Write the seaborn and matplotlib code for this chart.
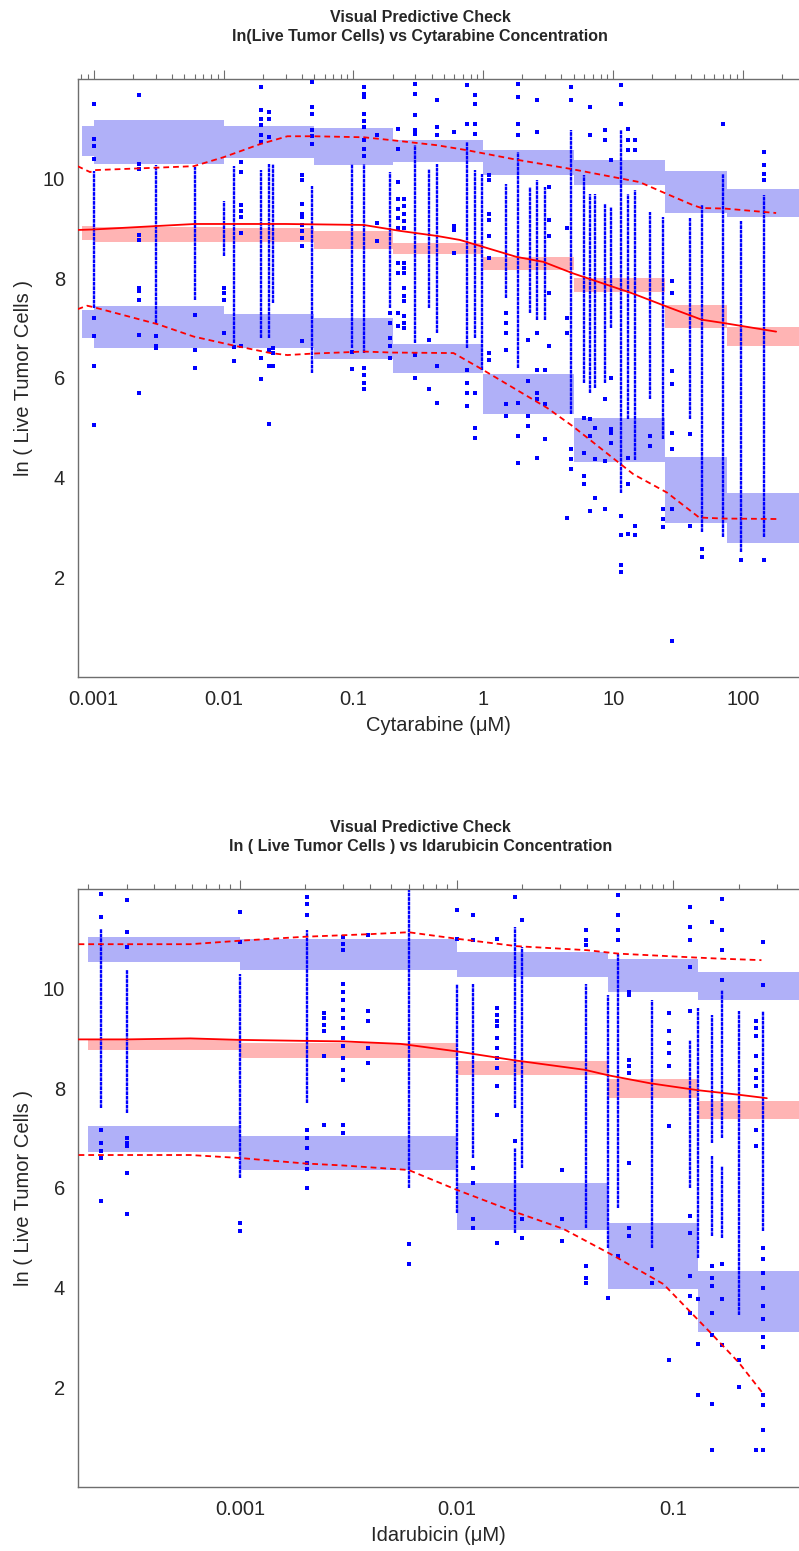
import numpy as np
import pandas as pd
import matplotlib
matplotlib.use("Agg")
import matplotlib.pyplot as plt
import seaborn as sns
from matplotlib.ticker import LogLocator, FuncFormatter, NullFormatter, FixedLocator

# ---------------- Cytarabine panel ----------------
cyt_edges = [0.00081, 0.001, 0.01, 0.05, 0.2, 1, 5, 25, 75, 280]
cyt_up_lo = [10.45, 10.30, 10.42, 10.28, 10.33, 10.08, 9.87, 9.32, 9.22]
cyt_up_hi = [11.05, 11.17, 11.05, 11.01, 10.77, 10.57, 10.37, 10.15, 9.79]
cyt_md_lo = [8.77, 8.72, 8.72, 8.58, 8.48, 8.17, 7.73, 7.00, 6.65]
cyt_md_hi = [9.05, 9.02, 9.00, 8.95, 8.71, 8.43, 8.00, 7.47, 7.03]
cyt_lo_lo = [6.80, 6.60, 6.60, 6.38, 6.10, 5.27, 4.31, 3.10, 2.69]
cyt_lo_hi = [7.37, 7.45, 7.28, 7.20, 6.68, 6.07, 5.20, 4.42, 3.70]

cyt_med_c = [0.00075, 0.001, 0.006, 0.03, 0.12, 0.23, 0.44, 0.66, 1.0, 1.8, 2.9,
             4.9, 14, 26, 48, 72, 180]
cyt_med_y = [8.97, 8.98, 9.09, 9.09, 9.07, 8.95, 8.85, 8.77, 8.63, 8.43, 8.33,
             8.10, 7.70, 7.43, 7.17, 7.10, 6.93]
cyt_p95_c = [0.00075, 0.00094, 0.001, 0.0031, 0.0059, 0.01, 0.019, 0.031, 0.049,
             0.12, 0.2, 0.44, 0.75, 1.8, 4.6, 11.6, 16, 24, 41, 48, 72, 180]
cyt_p95_y = [10.25, 10.13, 10.17, 10.22, 10.25, 10.43, 10.69, 10.85, 10.85,
             10.83, 10.77, 10.67, 10.57, 10.38, 10.20, 10.00, 9.93, 9.73, 9.47,
             9.41, 9.40, 9.31]
cyt_p05_c = [0.00075, 0.00089, 0.001, 0.0031, 0.0059, 0.012, 0.023, 0.031, 0.049,
             0.12, 0.2, 0.59, 0.94, 3.1, 4.9, 14.3, 26, 46, 70, 186]
cyt_p05_y = [7.38, 7.45, 7.42, 7.08, 6.83, 6.65, 6.50, 6.46, 6.49, 6.53, 6.51,
             6.50, 6.20, 5.40, 5.03, 4.07, 3.70, 3.20, 3.18, 3.17]

# dense runs of observations: concentration, low, high
cyt_seg_c = [0.001, 0.003, 0.006, 0.01, 0.012, 0.0195, 0.0224, 0.024, 0.048, 0.0976,
             0.12, 0.19, 0.3, 0.38, 0.44, 0.745, 0.87, 0.97, 1.5, 1.85, 2.3, 2.6,
             3.0, 4.7, 6.0, 6.6, 7.2, 8.7, 9.6, 11.4, 13, 14.7, 19.3, 24.3, 38.8,
             48, 70, 97, 144]
cyt_seg_lo = [7.4, 7.1, 7.57, 8.45, 6.7, 6.8, 6.8, 7.5, 6.1, 6.6, 6.5, 7.4, 6.7, 7.4,
              6.9, 6.6, 6.8, 6.17, 7.6, 6.2, 7.3, 7.17, 7.17, 5.27, 5.9, 5.7, 5.8,
              5.9, 7.0, 3.7, 5.17, 4.35, 5.57, 4.77, 5.17, 2.9, 2.8, 2.5, 2.8]
cyt_seg_hi = [10.15, 10.27, 10.24, 9.55, 10.25, 10.17, 10.3, 10.3, 9.85, 10.3, 10.3,
              10.14, 10.67, 10.2, 10.3, 10.74, 10.17, 10.1, 9.9, 10.54, 9.84, 9.97,
              9.84, 10.97, 10.07, 9.7, 9.7, 9.5, 9.44, 10.97, 9.7, 9.77, 9.34, 9.24,
              9.2, 9.47, 10.1, 9.14, 9.67]

# isolated observations per concentration
cyt_dot_c = [0.001, 0.00225, 0.003, 0.006, 0.01, 0.012, 0.0136, 0.0195, 0.0224, 0.024,
             0.04, 0.048, 0.0976, 0.12, 0.153, 0.19, 0.22, 0.245, 0.3, 0.38, 0.44,
             0.6, 0.745, 0.87, 1.1, 1.5, 1.85, 2.2, 2.6, 3.0, 3.2, 4.4, 4.7, 6.0,
             6.6, 7.2, 8.7, 9.6, 11.4, 13, 14.7, 19.3, 24.3, 28.6, 38.8, 48, 70, 97,
             144]
cyt_dot_y = [
    [11.5, 10.8, 10.65, 10.4, 7.2, 6.85, 6.25, 5.05],
    [11.67, 10.3, 10.2, 8.87, 8.77, 7.8, 7.74, 7.57, 6.87, 5.7],
    [6.85, 6.65, 6.6],
    [7.27, 6.57, 6.2],
    [7.8, 7.7, 7.57, 6.9],
    [6.62, 6.34],
    [10.34, 10.14, 9.47, 9.35, 9.24, 8.9, 6.64],
    [11.84, 11.37, 11.2, 11.07, 10.87, 10.74, 6.4, 5.97],
    [11.34, 11.2, 10.84, 6.57, 6.24, 5.07],
    [6.6, 6.5, 6.24],
    [10.07, 9.97, 9.5, 9.3, 9.24, 9.07, 8.95, 8.8, 8.64, 6.74],
    [11.94, 11.44, 11.3, 10.98, 10.85, 10.7],
    [6.52, 6.18],
    [11.84, 11.7, 11.64, 11.3, 11.15, 11.04, 10.77, 10.6, 10.45, 6.2, 6.05, 5.9, 5.77],
    [10.87, 9.1, 8.74],
    [7.3, 7.1, 6.8, 6.64, 6.4],
    [11.0, 10.6, 9.94, 9.6, 9.4, 9.2, 9.0, 8.3, 8.1, 7.3, 7.04],
    [9.6, 9.45, 9.3, 9.15, 9.0, 8.3, 8.2, 8.1, 7.8, 7.64, 7.54, 7.24, 7.1, 7.0],
    [11.9, 11.7, 11.27, 10.97, 10.9, 6.47, 6.0],
    [6.77, 5.77],
    [11.57, 11.04, 10.87, 6.24, 5.5],
    [10.94, 9.04, 8.97, 8.5],
    [11.87, 11.1, 6.17, 5.9, 5.7, 5.44],
    [11.67, 11.5, 11.1, 10.9, 5.7, 5.0, 4.8],
    [10.07, 9.97, 9.3, 9.17, 8.84, 8.4, 6.5, 6.37],
    [7.3, 7.1, 6.9, 6.57, 5.47, 5.24],
    [11.9, 11.64, 11.1, 10.87, 5.5, 4.84, 4.3],
    [6.77, 5.94, 5.24, 5.04],
    [11.57, 10.94, 6.9, 6.17, 5.7, 5.57, 4.4],
    [6.17, 5.47, 4.77],
    [9.84, 9.17, 8.84, 7.7, 6.64],
    [9.0, 7.2, 6.9, 3.2],
    [11.84, 11.57, 4.57, 4.37, 4.18],
    [5.2, 4.5, 4.04, 3.87],
    [11.44, 10.87, 5.17, 4.84, 3.34],
    [5.0, 4.37, 3.6],
    [10.97, 10.77, 5.57, 4.34, 3.37],
    [10.37, 6.0, 4.97, 4.9, 4.7],
    [11.87, 11.5, 3.24, 2.84, 2.24, 2.1],
    [11.0, 10.77, 10.57, 4.4, 3.87, 2.87],
    [10.77, 10.57, 3.04, 2.84],
    [4.84, 4.64],
    [3.37, 3.17, 3.0],
    [7.94, 7.7, 6.14, 5.87, 4.9, 4.57, 3.37, 0.72],
    [4.87, 3.04],
    [2.57, 2.4],
    [11.1],
    [2.34],
    [10.54, 10.27, 10.1, 9.97, 2.34],
]

# ---------------- Idarubicin panel ----------------
ida_edges = [0.0002, 0.001, 0.01, 0.05, 0.13, 0.38]
ida_up_lo = [10.54, 10.37, 10.24, 9.94, 9.77]
ida_up_hi = [11.04, 11.00, 10.74, 10.60, 10.34]
ida_md_lo = [8.77, 8.60, 8.27, 7.80, 7.38]
ida_md_hi = [8.98, 8.90, 8.54, 8.18, 7.74]
ida_lo_lo = [6.72, 6.36, 5.15, 3.98, 3.10]
ida_lo_hi = [7.24, 7.05, 6.09, 5.29, 4.34]

ida_med_c = [0.00018, 0.0003, 0.00059, 0.001, 0.002, 0.003, 0.0055, 0.006, 0.01,
             0.0185, 0.039, 0.05, 0.078, 0.13, 0.2, 0.27]
ida_med_y = [8.98, 8.98, 9.00, 8.97, 8.95, 8.94, 8.89, 8.87, 8.74, 8.56, 8.37,
             8.26, 8.10, 7.96, 7.87, 7.80]
ida_p95_c = [0.00018, 0.0003, 0.00059, 0.001, 0.002, 0.0039, 0.006, 0.01, 0.019,
             0.04, 0.056, 0.13, 0.164, 0.255]
ida_p95_y = [10.89, 10.89, 10.89, 10.96, 11.04, 11.09, 11.13, 11.00, 10.85, 10.77,
             10.70, 10.62, 10.60, 10.57]
ida_p05_c = [0.00018, 0.0003, 0.00059, 0.001, 0.002, 0.003, 0.006, 0.0099, 0.018,
             0.031, 0.053, 0.09, 0.148, 0.2, 0.263]
ida_p05_y = [6.66, 6.66, 6.66, 6.60, 6.49, 6.45, 6.36, 5.97, 5.54, 5.18, 4.64,
             4.07, 3.10, 2.50, 1.84]

ida_seg_c = [0.000229, 0.0003, 0.001, 0.00203, 0.006, 0.01, 0.0119, 0.0185, 0.0185,
             0.02, 0.0397, 0.05, 0.0556, 0.08, 0.119, 0.13, 0.15, 0.15, 0.167, 0.167,
             0.2, 0.26]
ida_seg_lo = [7.6, 7.5, 6.2, 7.7, 6.0, 5.5, 6.6, 7.6, 5.1, 6.4, 5.2, 4.8, 5.6, 4.8,
              6.0, 4.6, 6.9, 5.04, 7.0, 5.0, 3.44, 5.14]
ida_seg_hi = [11.2, 10.37, 10.3, 11.17, 11.97, 10.1, 10.1, 11.24, 6.8, 10.84, 10.1,
              9.87, 10.7, 9.77, 8.97, 9.6, 9.47, 6.64, 9.97, 6.44, 9.54, 9.54]

ida_dot_c = [0.000229, 0.0003, 0.001, 0.00203, 0.00245, 0.003, 0.0039, 0.006, 0.01,
             0.0119, 0.0153, 0.0185, 0.02, 0.0305, 0.0397, 0.05, 0.0556, 0.0623,
             0.08, 0.0955, 0.119, 0.13, 0.15, 0.167, 0.2, 0.241, 0.26]
ida_dot_y = [
    [11.9, 11.44, 7.17, 6.9, 6.75, 6.6, 5.74],
    [11.77, 11.14, 10.84, 7.0, 6.9, 6.84, 6.29, 5.47],
    [11.54, 10.94, 5.3, 5.14],
    [11.84, 11.7, 11.47, 7.17, 7.0, 6.8, 6.5, 6.37, 6.0],
    [9.5, 9.4, 9.27, 9.14, 8.64, 7.27],
    [11.04, 10.9, 10.77, 10.1, 9.94, 9.77, 9.57, 9.4, 9.2, 9.0, 8.84, 8.6, 8.37,
     8.17, 7.27, 7.1],
    [11.07, 9.54, 9.34, 8.8, 8.5],
    [4.87, 4.47],
    [11.57, 11.0],
    [11.47, 10.97, 6.4, 6.1, 5.37, 5.2],
    [11.0, 9.6, 9.47, 9.34, 9.24, 9.0, 8.8, 8.6, 8.4, 8.04, 7.47, 4.89],
    [11.84, 6.94],
    [11.37, 5.37, 5.0],
    [6.36, 5.37, 4.94],
    [11.17, 10.97, 10.87, 4.44, 4.2, 4.1],
    [3.8],
    [11.87, 11.47, 11.17, 10.97, 4.64],
    [9.94, 9.87, 8.57, 8.44, 8.3, 6.5, 5.2, 5.04],
    [4.37, 4.1],
    [9.5, 9.14, 8.9, 8.7, 8.44, 7.24, 2.54],
    [11.64, 11.24, 10.97, 10.44, 9.54, 5.44, 5.1, 4.24, 3.84, 3.5],
    [3.77, 2.87, 1.84],
    [11.34, 4.44, 4.2, 4.04, 3.5, 3.04, 1.67, 0.74],
    [11.8, 11.17, 10.77, 10.17, 4.47, 3.77, 2.84],
    [2.54, 2.0],
    [9.34, 9.2, 9.04, 8.64, 8.37, 8.2, 8.04, 7.17, 6.84, 0.74],
    [10.94, 10.07, 4.8, 4.57, 4.3, 4.0, 3.64, 3.37, 3.0, 2.8, 1.84, 1.64, 1.14, 0.74],
]

BLUE_BOX = "#b0b0f8"
PINK_BOX = "#ffb4b4"
OBS = "#0000ff"
RED = "#ff0000"
SPINE = "#6e6e6e"
DASH = (0, (3.2, 2.2))


def draw_panel(ax, edges, bands, seg, dots, med, p95, p05, xlim, title, xlabel):
    # prediction interval boxes, one per bin
    for lo, hi, col in bands:
        for i in range(len(edges) - 1):
            ax.fill_between([edges[i], edges[i + 1]], lo[i], hi[i],
                            color=col, linewidth=0, zorder=1)

    # observed data: dense runs and single points
    seg_c, seg_lo, seg_hi = seg
    ax.vlines(seg_c, seg_lo, seg_hi, colors=OBS, linewidth=1.7,
              linestyles=[(0, (1.6, 0.3))], zorder=2)
    dot_c, dot_y = dots
    df = pd.DataFrame({"conc": [c for c, ys in zip(dot_c, dot_y) for _ in ys],
                       "val": [v for ys in dot_y for v in ys]})
    sns.scatterplot(data=df, x="conc", y="val", marker="s", s=5, color=OBS,
                    linewidth=0, ax=ax, zorder=3, legend=False)

    # observed percentiles
    sns.lineplot(x=med[0], y=med[1], ax=ax, color=RED, linewidth=1.3,
                 estimator=None, sort=False, zorder=4)
    for c, y in (p95, p05):
        sns.lineplot(x=c, y=y, ax=ax, color=RED, linewidth=1.3,
                     estimator=None, sort=False, zorder=4)
        ax.lines[-1].set_linestyle(DASH)

    ax.set_xscale("log")
    ax.set_xlim(*xlim)
    ax.set_ylim(0, 12)
    ax.yaxis.set_major_locator(FixedLocator([2, 4, 6, 8, 10]))
    ax.xaxis.set_major_locator(LogLocator(base=10, numticks=20))
    ax.xaxis.set_minor_locator(LogLocator(base=10, subs=np.arange(2, 10), numticks=100))
    ax.xaxis.set_major_formatter(FuncFormatter(lambda v, p: f"{v:g}"))
    ax.xaxis.set_minor_formatter(NullFormatter())

    ax.spines["right"].set_visible(False)
    for s in ("left", "top", "bottom"):
        ax.spines[s].set_color(SPINE)
        ax.spines[s].set_linewidth(1.0)
    ax.tick_params(axis="x", which="major", direction="out", length=6.5, width=0.8,
                   color=SPINE, top=True, labelsize=14.5, pad=3)
    ax.tick_params(axis="x", which="minor", direction="out", length=3.5, width=0.8,
                   color=SPINE, top=True)
    ax.tick_params(axis="y", which="major", direction="out", length=4, width=0.8,
                   color=SPINE, labelsize=14.5, pad=5)

    ax.set_xlabel(xlabel, fontsize=14.5, labelpad=5)
    ax.set_ylabel("ln ( Live Tumor Cells )", fontsize=14.5, labelpad=7)

    bbox = ax.get_position()
    fig = ax.figure
    fig.text(0.526, bbox.y1 + 0.0335, title, ha="center", va="center",
             fontsize=11.5, fontweight="bold", linespacing=1.35)


sns.set_style("white")
plt.rcParams["font.family"] = ["Liberation Sans", "DejaVu Sans"]

fig = plt.figure(figsize=(7.99, 15.51), dpi=100)
ax_top = fig.add_axes([0.097, 0.5635, 0.903, 0.3856])
ax_bot = fig.add_axes([0.097, 0.0413, 0.903, 0.3856])

draw_panel(ax_top, cyt_edges,
           [(cyt_up_lo, cyt_up_hi, BLUE_BOX), (cyt_md_lo, cyt_md_hi, PINK_BOX),
            (cyt_lo_lo, cyt_lo_hi, BLUE_BOX)],
           (cyt_seg_c, cyt_seg_lo, cyt_seg_hi), (cyt_dot_c, cyt_dot_y),
           (cyt_med_c, cyt_med_y), (cyt_p95_c, cyt_p95_y), (cyt_p05_c, cyt_p05_y),
           (0.00075, 270),
           "Visual Predictive Check\nln(Live Tumor Cells) vs Cytarabine Concentration",
           "Cytarabine (\u03bcM)")

draw_panel(ax_bot, ida_edges,
           [(ida_up_lo, ida_up_hi, BLUE_BOX), (ida_md_lo, ida_md_hi, PINK_BOX),
            (ida_lo_lo, ida_lo_hi, BLUE_BOX)],
           (ida_seg_c, ida_seg_lo, ida_seg_hi), (ida_dot_c, ida_dot_y),
           (ida_med_c, ida_med_y), (ida_p95_c, ida_p95_y), (ida_p05_c, ida_p05_y),
           (0.000178, 0.38),
           "Visual Predictive Check\nln ( Live Tumor Cells ) vs Idarubicin Concentration",
           "Idarubicin (\u03bcM)")

fig.savefig("out.png", dpi=100)
